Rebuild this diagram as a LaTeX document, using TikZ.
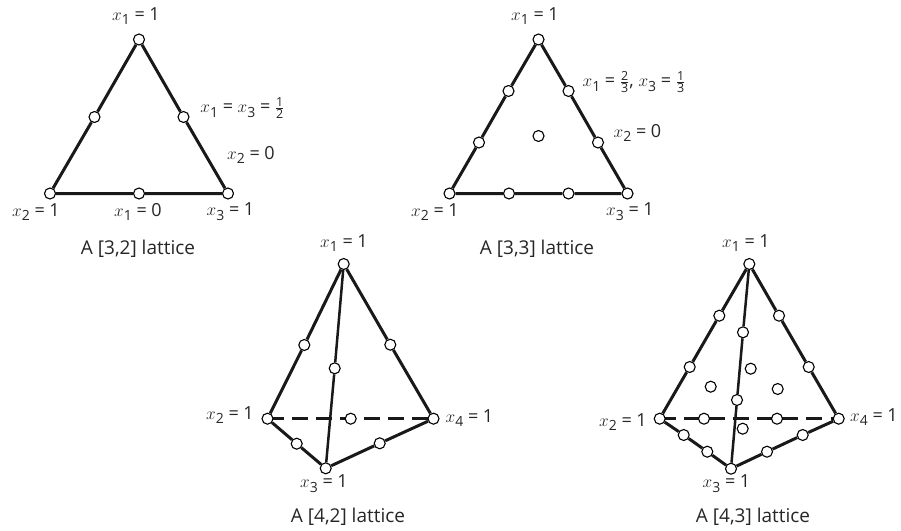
\documentclass[tikz,border=0pt]{standalone}
\usepackage{fontspec}
\usetikzlibrary{backgrounds}
\setmainfont{Open Sans}
\newcommand{\vx}[1]{$x$\raisebox{-0.5ex}{\fontsize{14}{14}\selectfont #1}}
\newcommand{\fr}[2]{$\frac{\hbox{\fontsize{12.5}{12.5}\selectfont #1}}{\hbox{\fontsize{12.5}{12.5}\selectfont #2}}$}
\tikzset{
 x=1pt,y=-1pt,
 pt/.style={circle,draw=black,fill=white,line width=1.1pt,minimum size=11pt,inner sep=0pt},
 edge/.style={line width=3pt,black!90},
 thinedge/.style={line width=2.5pt,black!90},
 dashedge/.style={line width=3pt,black!90,dash pattern=on 16pt off 8pt},
 lab/.style={font=\fontsize{18}{20}\selectfont,inner sep=0pt,text=black!85},
 captext/.style={font=\fontsize{19}{21}\selectfont,inner sep=0pt,text=black!85}
}
\begin{document}
\begin{tikzpicture}
\useasboundingbox (0,0) rectangle (901,530);
% --- [3,2]
\node[pt] (a1) at (139,39.5) {};
\node[pt] (a2) at (50,193.5) {};
\node[pt] (a3) at (228,193.5) {};
\node[pt] (a12) at (94.5,117) {};
\node[pt] (a13) at (183.5,117) {};
\node[pt] (a23) at (139,193.5) {};
\draw[edge] (a1)--(a12) (a12)--(a2) (a1)--(a13) (a13)--(a3) (a2)--(a23) (a23)--(a3);
\node[lab] (la1) at (136,16) {\vx{1} = 1};
\node[lab] (la2) at (36,212) {\vx{2} = 1};
\node[lab] (la3) at (138,212) {\vx{1} = 0};
\node[lab] (la4) at (230.5,212) {\vx{3} = 1};
\node[lab] (la5) at (242.5,108) {\vx{1} = \vx{3} = \fr{1}{2}};
\node[lab] (la6) at (251,155) {\vx{2} = 0};
\node[captext] (ca) at (138,249) {A [3,2] lattice};
% --- [3,3]
\node[pt] (b1) at (538.5,39.5) {};
\node[pt] (b2) at (449.5,193.5) {};
\node[pt] (b3) at (627.5,193.5) {};
\node[pt] (b4) at (508.5,91) {};
\node[pt] (b5) at (479,142.5) {};
\node[pt] (b6) at (568.5,91) {};
\node[pt] (b7) at (598,142.5) {};
\node[pt] (b8) at (509,193.5) {};
\node[pt] (b9) at (568.5,193.5) {};
\node[pt] (b0) at (538.5,136) {};
\draw[edge] (b1)--(b4) (b4)--(b5) (b5)--(b2) (b1)--(b6) (b6)--(b7) (b7)--(b3) (b2)--(b8) (b8)--(b9) (b9)--(b3);
\node[lab] (lb1) at (535,16) {\vx{1} = 1};
\node[lab] (lb2) at (435,212) {\vx{2} = 1};
\node[lab] (lb3) at (630,212) {\vx{3} = 1};
\node[lab] (lb4) at (634,82) {\vx{1} = \fr{2}{3}, \vx{3} = \fr{1}{3}};
\node[lab] (lb5) at (637.5,133) {\vx{2} = 0};
\node[captext] (cb) at (537,249) {A [3,3] lattice};
% --- [4,2]
\node[pt] (c1) at (343.7,264) {};
\node[pt] (c2) at (267.5,418.7) {};
\node[pt] (c4) at (433.5,418.7) {};
\node[pt] (c3) at (325.7,468.3) {};
\node[pt] (c12) at (304.3,345) {};
\node[pt] (c14) at (390.3,344.7) {};
\node[pt] (c13) at (334.7,368.3) {};
\node[pt] (c24) at (350.7,418.7) {};
\node[pt] (c23) at (296.7,443.7) {};
\node[pt] (c34) at (379.7,443.3) {};
\draw[edge] (c1)--(c12) (c12)--(c2) (c1)--(c14) (c14)--(c4) (c2)--(c23) (c23)--(c3) (c3)--(c34) (c34)--(c4);
\draw[thinedge] (c1)--(c13) (c13)--(c3);
\begin{scope}[on background layer]
\draw[dashedge] (c2.center)--(c4.center);
\end{scope}
\node[lab] (lc1) at (344,243) {\vx{1} = 1};
\node[lab] (lc2) at (230,415) {\vx{2} = 1};
\node[lab] (lc3) at (324,484) {\vx{3} = 1};
\node[lab] (lc4) at (469.5,418) {\vx{4} = 1};
\node[captext] (cc) at (348,517) {A [4,2] lattice};
% --- [4,3]
\node[pt] (d1) at (749.3,264) {};
\node[pt] (d2) at (659.7,418.7) {};
\node[pt] (d4) at (838.7,418.7) {};
\node[pt] (d3) at (731,468.7) {};
\node[pt] (d5) at (719.3,315.7) {};
\node[pt] (d6) at (689.7,367) {};
\node[pt] (d7) at (779,315.7) {};
\node[pt] (d8) at (808.7,367) {};
\node[pt] (d9) at (743,332.3) {};
\node[pt] (d10) at (737,400) {};
\node[pt] (d11) at (704,418.7) {};
\node[pt] (d12) at (777,418.7) {};
\node[pt] (d13) at (683.7,435) {};
\node[pt] (d14) at (707.3,451.7) {};
\node[pt] (d15) at (767,451.7) {};
\node[pt] (d16) at (802.7,435) {};
\node[pt] (d17) at (750.7,368.7) {};
\node[pt] (d18) at (710.7,386.7) {};
\node[pt] (d19) at (777.7,389) {};
\node[pt] (d20) at (742.7,428.7) {};
\draw[edge] (d1)--(d5) (d5)--(d6) (d6)--(d2) (d1)--(d7) (d7)--(d8) (d8)--(d4) (d2)--(d13) (d13)--(d14) (d14)--(d3) (d3)--(d15) (d15)--(d16) (d16)--(d4);
\draw[thinedge] (d1)--(d9) (d9)--(d10) (d10)--(d3);
\begin{scope}[on background layer]
\draw[dashedge,dash pattern=on 16pt off 8.4pt] (d2.center)--(d4.center);
\end{scope}
\node[lab] (ld1) at (746,243) {\vx{1} = 1};
\node[lab] (ld2) at (623,422) {\vx{2} = 1};
\node[lab] (ld3) at (726.5,484) {\vx{3} = 1};
\node[lab] (ld4) at (874,417) {\vx{4} = 1};
\node[captext] (cd) at (753,517) {A [4,3] lattice};
\end{tikzpicture}
\end{document}
